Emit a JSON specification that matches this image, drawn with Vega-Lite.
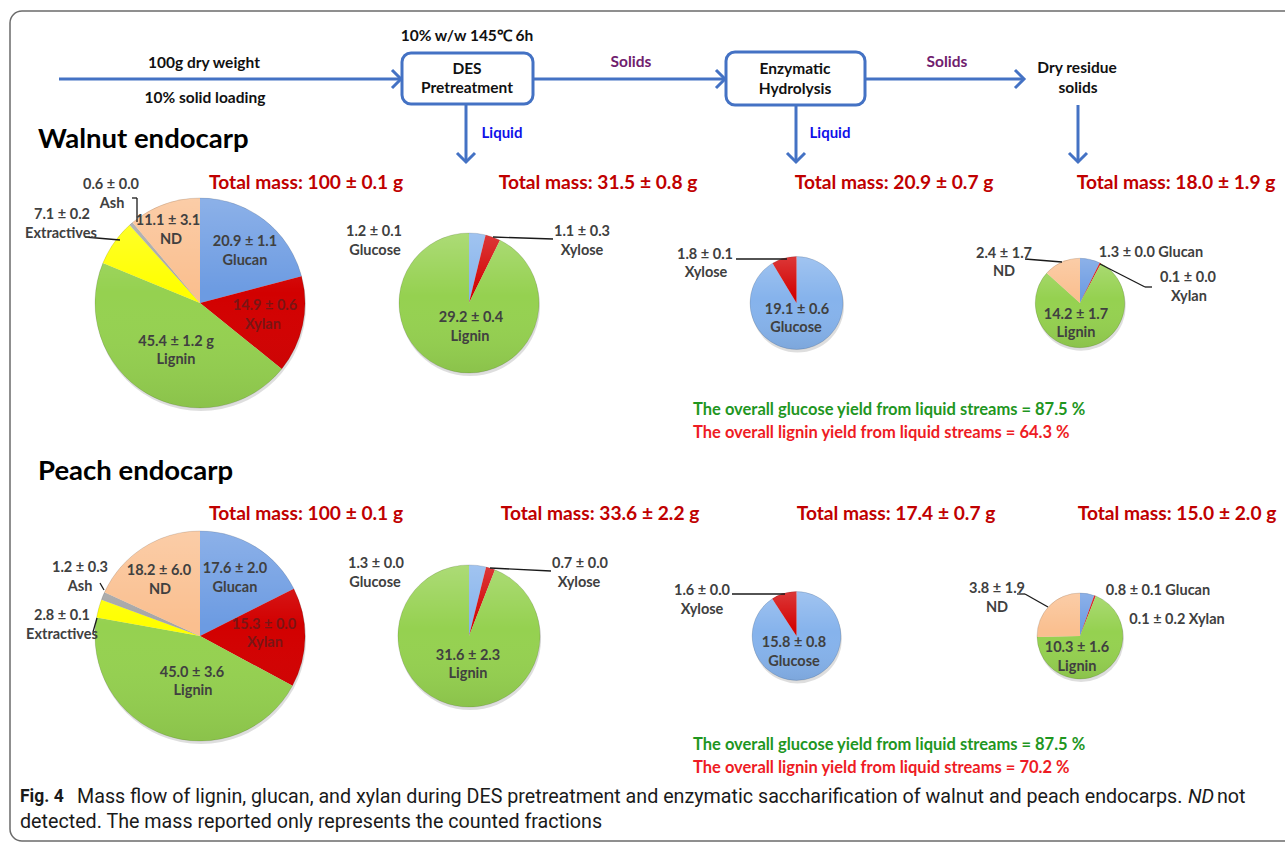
{
  "$schema": "https://vega.github.io/schema/vega-lite/v6.json",
  "width": 1285,
  "height": 843,
  "autosize": {"type": "none"},
  "padding": 0,
  "background": "white",
  "config": {"view": {"stroke": null}},
  "datasets": {
    "pies": [
      {"species": "Walnut endocarp", "step": 1, "component": "Glucan", "mass": 20.9, "order": 1},
      {"species": "Walnut endocarp", "step": 1, "component": "Xylan", "mass": 14.9, "order": 2},
      {"species": "Walnut endocarp", "step": 1, "component": "Lignin", "mass": 45.4, "order": 3},
      {"species": "Walnut endocarp", "step": 1, "component": "Extractives", "mass": 7.1, "order": 4},
      {"species": "Walnut endocarp", "step": 1, "component": "Ash", "mass": 0.6, "order": 5},
      {"species": "Walnut endocarp", "step": 1, "component": "ND", "mass": 11.1, "order": 6},
      {"species": "Walnut endocarp", "step": 2, "component": "Glucose", "mass": 1.2, "order": 1},
      {"species": "Walnut endocarp", "step": 2, "component": "Xylose", "mass": 1.1, "order": 2},
      {"species": "Walnut endocarp", "step": 2, "component": "Lignin", "mass": 29.2, "order": 3},
      {"species": "Walnut endocarp", "step": 3, "component": "Glucose", "mass": 19.1, "order": 1},
      {"species": "Walnut endocarp", "step": 3, "component": "Xylose", "mass": 1.8, "order": 2},
      {"species": "Walnut endocarp", "step": 4, "component": "Glucan", "mass": 1.3, "order": 1},
      {"species": "Walnut endocarp", "step": 4, "component": "Xylan", "mass": 0.1, "order": 2},
      {"species": "Walnut endocarp", "step": 4, "component": "Lignin", "mass": 14.2, "order": 3},
      {"species": "Walnut endocarp", "step": 4, "component": "ND", "mass": 2.4, "order": 6},
      {"species": "Peach endocarp", "step": 1, "component": "Glucan", "mass": 17.6, "order": 1},
      {"species": "Peach endocarp", "step": 1, "component": "Xylan", "mass": 15.3, "order": 2},
      {"species": "Peach endocarp", "step": 1, "component": "Lignin", "mass": 45.0, "order": 3},
      {"species": "Peach endocarp", "step": 1, "component": "Extractives", "mass": 2.8, "order": 4},
      {"species": "Peach endocarp", "step": 1, "component": "Ash", "mass": 1.2, "order": 5},
      {"species": "Peach endocarp", "step": 1, "component": "ND", "mass": 18.2, "order": 6},
      {"species": "Peach endocarp", "step": 2, "component": "Glucose", "mass": 1.3, "order": 1},
      {"species": "Peach endocarp", "step": 2, "component": "Xylose", "mass": 0.7, "order": 2},
      {"species": "Peach endocarp", "step": 2, "component": "Lignin", "mass": 31.6, "order": 3},
      {"species": "Peach endocarp", "step": 3, "component": "Glucose", "mass": 15.8, "order": 1},
      {"species": "Peach endocarp", "step": 3, "component": "Xylose", "mass": 1.6, "order": 2},
      {"species": "Peach endocarp", "step": 4, "component": "Glucan", "mass": 0.8, "order": 1},
      {"species": "Peach endocarp", "step": 4, "component": "Xylan", "mass": 0.1, "order": 2},
      {"species": "Peach endocarp", "step": 4, "component": "Lignin", "mass": 10.3, "order": 3},
      {"species": "Peach endocarp", "step": 4, "component": "ND", "mass": 3.8, "order": 6}
    ],
    "frame": [{"x": 10, "y": 11, "x2": 1300, "y2": 841}],
    "boxes": [
      {"x": 402, "y": 53, "x2": 533, "y2": 104},
      {"x": 726, "y": 52, "x2": 865, "y2": 105}
    ],
    "lines": [
      {"kind": "flow", "x": 59, "y": 79, "x2": 400, "y2": 79},
      {"kind": "flow", "x": 533, "y": 79, "x2": 724, "y2": 79},
      {"kind": "flow", "x": 865, "y": 79, "x2": 1023, "y2": 79},
      {"kind": "flow", "x": 466, "y": 104, "x2": 466, "y2": 161},
      {"kind": "flow", "x": 796, "y": 105, "x2": 796, "y2": 161},
      {"kind": "flow", "x": 1078, "y": 105, "x2": 1078, "y2": 161},
      {"kind": "leader", "x": 132, "y": 198, "x2": 137, "y2": 198},
      {"kind": "leader", "x": 137, "y": 198, "x2": 137, "y2": 222},
      {"kind": "leader", "x": 85, "y": 237, "x2": 120, "y2": 240},
      {"kind": "leader", "x": 493, "y": 237, "x2": 553, "y2": 239},
      {"kind": "leader", "x": 736, "y": 259, "x2": 787, "y2": 259},
      {"kind": "leader", "x": 1025, "y": 259, "x2": 1062, "y2": 262},
      {"kind": "leader", "x": 1100, "y": 264, "x2": 1145, "y2": 287},
      {"kind": "leader", "x": 1145, "y": 287, "x2": 1152, "y2": 287},
      {"kind": "leader", "x": 100, "y": 583, "x2": 104, "y2": 590},
      {"kind": "leader", "x": 97, "y": 618, "x2": 93, "y2": 632},
      {"kind": "leader", "x": 490, "y": 568, "x2": 551, "y2": 571},
      {"kind": "leader", "x": 732, "y": 594, "x2": 785, "y2": 594},
      {"kind": "leader", "x": 1017, "y": 594, "x2": 1025, "y2": 594},
      {"kind": "leader", "x": 1025, "y": 594, "x2": 1048, "y2": 607}
    ],
    "tips": [
      {"dir": "right", "x": 401, "y": 79},
      {"dir": "right", "x": 725, "y": 79},
      {"dir": "right", "x": 1024, "y": 79},
      {"dir": "down", "x": 466, "y": 162},
      {"dir": "down", "x": 796, "y": 162},
      {"dir": "down", "x": 1078, "y": 162}
    ],
    "texts": [
      {"kind": "flow", "x": 204, "y": 63, "text": "100g dry weight"},
      {"kind": "flow", "x": 205, "y": 98, "text": "10% solid loading"},
      {"kind": "flow", "x": 467, "y": 36, "text": "10% w/w 145℃ 6h"},
      {"kind": "flow", "x": 467, "y": 69, "text": "DES"},
      {"kind": "flow", "x": 467, "y": 88, "text": "Pretreatment"},
      {"kind": "flow", "x": 795, "y": 69, "text": "Enzymatic"},
      {"kind": "flow", "x": 795, "y": 89, "text": "Hydrolysis"},
      {"kind": "flow", "x": 1077, "y": 68, "text": "Dry residue"},
      {"kind": "flow", "x": 1078, "y": 88, "text": "solids"},
      {"kind": "solids", "x": 631, "y": 62, "text": "Solids"},
      {"kind": "solids", "x": 947, "y": 62, "text": "Solids"},
      {"kind": "liquid", "x": 502, "y": 133, "text": "Liquid"},
      {"kind": "liquid", "x": 830, "y": 133, "text": "Liquid"},
      {"kind": "title", "x": 38, "y": 140, "text": "Walnut endocarp"},
      {"kind": "title", "x": 38, "y": 472, "text": "Peach endocarp"},
      {"kind": "total", "x": 306, "y": 183, "text": "Total mass: 100 ± 0.1 g"},
      {"kind": "total", "x": 598, "y": 183, "text": "Total mass: 31.5 ± 0.8 g"},
      {"kind": "total", "x": 894, "y": 183, "text": "Total mass: 20.9 ± 0.7 g"},
      {"kind": "total", "x": 1176, "y": 183, "text": "Total mass: 18.0 ± 1.9 g"},
      {"kind": "total", "x": 306, "y": 514, "text": "Total mass: 100 ± 0.1 g"},
      {"kind": "total", "x": 600, "y": 514, "text": "Total mass: 33.6 ± 2.2 g"},
      {"kind": "total", "x": 896, "y": 514, "text": "Total mass: 17.4 ± 0.7 g"},
      {"kind": "total", "x": 1177, "y": 514, "text": "Total mass: 15.0 ± 2.0 g"},
      {"kind": "label", "x": 111, "y": 185, "text": "0.6 ± 0.0"},
      {"kind": "label", "x": 112, "y": 204, "text": "Ash"},
      {"kind": "label", "x": 62, "y": 215, "text": "7.1 ± 0.2"},
      {"kind": "label", "x": 61, "y": 234, "text": "Extractives"},
      {"kind": "label", "x": 168, "y": 221, "text": "11.1 ± 3.1"},
      {"kind": "label", "x": 171, "y": 240, "text": "ND"},
      {"kind": "label", "x": 245, "y": 242, "text": "20.9 ± 1.1"},
      {"kind": "label", "x": 245, "y": 261, "text": "Glucan"},
      {"kind": "xylan", "x": 265, "y": 306, "text": "14.9 ± 0.6"},
      {"kind": "xylan", "x": 263, "y": 325, "text": "Xylan"},
      {"kind": "label", "x": 176, "y": 342, "text": "45.4 ± 1.2 g"},
      {"kind": "label", "x": 176, "y": 360, "text": "Lignin"},
      {"kind": "label", "x": 374, "y": 232, "text": "1.2 ± 0.1"},
      {"kind": "label", "x": 375, "y": 251, "text": "Glucose"},
      {"kind": "label", "x": 582, "y": 232, "text": "1.1 ± 0.3"},
      {"kind": "label", "x": 582, "y": 251, "text": "Xylose"},
      {"kind": "label", "x": 471, "y": 318, "text": "29.2 ± 0.4"},
      {"kind": "label", "x": 470, "y": 337, "text": "Lignin"},
      {"kind": "label", "x": 705, "y": 255, "text": "1.8 ± 0.1"},
      {"kind": "label", "x": 706, "y": 273, "text": "Xylose"},
      {"kind": "label", "x": 797, "y": 310, "text": "19.1 ± 0.6"},
      {"kind": "label", "x": 796, "y": 328, "text": "Glucose"},
      {"kind": "label", "x": 1004, "y": 254, "text": "2.4 ± 1.7"},
      {"kind": "label", "x": 1004, "y": 272, "text": "ND"},
      {"kind": "label", "x": 1151, "y": 253, "text": "1.3 ± 0.0 Glucan"},
      {"kind": "label", "x": 1188, "y": 278, "text": "0.1 ± 0.0"},
      {"kind": "label", "x": 1189, "y": 297, "text": "Xylan"},
      {"kind": "label", "x": 1076, "y": 315, "text": "14.2 ± 1.7"},
      {"kind": "label", "x": 1076, "y": 333, "text": "Lignin"},
      {"kind": "label", "x": 80, "y": 568, "text": "1.2 ± 0.3"},
      {"kind": "label", "x": 80, "y": 587, "text": "Ash"},
      {"kind": "label", "x": 62, "y": 616, "text": "2.8 ± 0.1"},
      {"kind": "label", "x": 62, "y": 635, "text": "Extractives"},
      {"kind": "label", "x": 159, "y": 571, "text": "18.2 ± 6.0"},
      {"kind": "label", "x": 160, "y": 590, "text": "ND"},
      {"kind": "label", "x": 235, "y": 569, "text": "17.6 ± 2.0"},
      {"kind": "label", "x": 235, "y": 588, "text": "Glucan"},
      {"kind": "xylan", "x": 264, "y": 625, "text": "15.3 ± 0.0"},
      {"kind": "xylan", "x": 265, "y": 643, "text": "Xylan"},
      {"kind": "label", "x": 192, "y": 673, "text": "45.0 ± 3.6"},
      {"kind": "label", "x": 193, "y": 691, "text": "Lignin"},
      {"kind": "label", "x": 376, "y": 564, "text": "1.3 ± 0.0"},
      {"kind": "label", "x": 375, "y": 583, "text": "Glucose"},
      {"kind": "label", "x": 580, "y": 564, "text": "0.7 ± 0.0"},
      {"kind": "label", "x": 579, "y": 583, "text": "Xylose"},
      {"kind": "label", "x": 468, "y": 656, "text": "31.6 ± 2.3"},
      {"kind": "label", "x": 468, "y": 674, "text": "Lignin"},
      {"kind": "label", "x": 702, "y": 591, "text": "1.6 ± 0.0"},
      {"kind": "label", "x": 702, "y": 610, "text": "Xylose"},
      {"kind": "label", "x": 794, "y": 643, "text": "15.8 ± 0.8"},
      {"kind": "label", "x": 794, "y": 662, "text": "Glucose"},
      {"kind": "label", "x": 997, "y": 589, "text": "3.8 ± 1.9"},
      {"kind": "label", "x": 997, "y": 608, "text": "ND"},
      {"kind": "label", "x": 1158, "y": 591, "text": "0.8 ± 0.1 Glucan"},
      {"kind": "label", "x": 1177, "y": 620, "text": "0.1 ± 0.2 Xylan"},
      {"kind": "label", "x": 1077, "y": 648, "text": "10.3 ± 1.6"},
      {"kind": "label", "x": 1077, "y": 667, "text": "Lignin"},
      {"kind": "yieldG", "x": 693, "y": 410, "text": "The overall glucose yield from liquid streams = 87.5 %"},
      {"kind": "yieldR", "x": 693, "y": 433, "text": "The overall lignin yield from liquid streams = 64.3 %"},
      {"kind": "yieldG", "x": 693, "y": 745, "text": "The overall glucose yield from liquid streams = 87.5 %"},
      {"kind": "yieldR", "x": 693, "y": 768, "text": "The overall lignin yield from liquid streams = 70.2 %"},
      {"kind": "capBold", "x": 20, "y": 797, "text": "Fig. 4"},
      {"kind": "capReg", "x": 77, "y": 797, "text": "Mass flow of lignin, glucan, and xylan during DES pretreatment and enzymatic saccharification of walnut and peach endocarps."},
      {"kind": "capItal", "x": 1188, "y": 797, "text": "ND"},
      {"kind": "capReg", "x": 1217, "y": 797, "text": "not"},
      {"kind": "capReg", "x": 20, "y": 822, "text": "detected. The mass reported only represents the counted fractions"}
    ]
  },
  "encoding": {
    "x": {"field": "x", "type": "quantitative", "scale": {"domain": [0, 1285], "range": [0, 1285], "nice": false, "zero": false}, "axis": null},
    "y": {"field": "y", "type": "quantitative", "scale": {"domain": [0, 843], "range": [0, 843], "nice": false, "zero": false}, "axis": null}
  },
  "layer": [
    {
      "data": {"name": "frame"},
      "mark": {"type": "rect", "filled": false, "stroke": "#6b6b6b", "strokeWidth": 1.5, "cornerRadius": 12},
      "encoding": {"x2": {"field": "x2"}, "y2": {"field": "y2"}}
    },
    {
      "data": {"name": "pies"},
      "transform": [
        {"aggregate": [{"op": "sum", "field": "mass", "as": "total"}], "groupby": ["species", "step"]}
      ],
      "mark": {"type": "arc", "theta": 0, "theta2": 6.283185307179586, "fill": "rgba(0,0,0,0.13)", "yOffset": 3, "xOffset": 1},
      "encoding": {
        "x": {"field": "step", "type": "quantitative", "stack": null, "scale": {"domain": [1, 2, 3, 4], "range": [200, 469, 796.5, 1080], "nice": false, "zero": false}, "axis": null},
        "y": {"field": "species", "type": "nominal", "scale": {"type": "point", "domain": ["Walnut endocarp", "Peach endocarp"], "range": [303, 636], "padding": 0}, "axis": null},
        "radius": {"field": "total", "type": "quantitative", "stack": null, "scale": {"type": "linear", "domain": [15, 20.9, 31.5, 100], "range": [43, 46.5, 70, 105], "zero": false, "nice": false}},
        "radius2": {"value": 0}
      }
    },
    {
      "data": {"name": "pies"},
      "transform": [
        {"joinaggregate": [{"op": "sum", "field": "mass", "as": "total"}], "groupby": ["species", "step"]},
        {"stack": "mass", "groupby": ["species", "step"], "sort": [{"field": "order", "order": "ascending"}], "offset": "normalize", "as": ["t0", "t1"]}
      ],
      "mark": {"type": "arc"},
      "encoding": {
        "x": {"field": "step", "type": "quantitative", "stack": null, "scale": {"domain": [1, 2, 3, 4], "range": [200, 469, 796.5, 1080], "nice": false, "zero": false}, "axis": null},
        "y": {"field": "species", "type": "nominal", "scale": {"type": "point", "domain": ["Walnut endocarp", "Peach endocarp"], "range": [303, 636], "padding": 0}, "axis": null},
        "theta": {"field": "t0", "type": "quantitative", "stack": null, "scale": {"domain": [0, 1], "range": [0, 6.283185307179586]}},
        "theta2": {"field": "t1"},
        "radius": {"field": "total", "type": "quantitative", "stack": null, "scale": {"type": "linear", "domain": [15, 20.9, 31.5, 100], "range": [43, 46.5, 70, 105], "zero": false, "nice": false}},
        "radius2": {"value": 0},
        "color": {"field": "component", "type": "nominal", "legend": null, "scale": {"domain": ["Glucan", "Glucose", "Xylan", "Xylose", "Lignin", "Extractives", "Ash", "ND"], "range": ["#6c9be2", "#86b3ec", "#d20000", "#d20000", "#95d150", "#ffff00", "#a6a6a6", "#fabf8f"]}}
      }
    },
    {
      "data": {"name": "pies"},
      "transform": [
        {"aggregate": [{"op": "sum", "field": "mass", "as": "total"}], "groupby": ["species", "step"]}
      ],
      "mark": {"type": "arc", "theta": 0, "theta2": 6.283185307179586, "fill": {"gradient": "linear", "x1": 0, "y1": 0, "x2": 0, "y2": 1, "stops": [{"offset": 0, "color": "rgba(255,255,255,0.22)"}, {"offset": 0.45, "color": "rgba(255,255,255,0)"}, {"offset": 1, "color": "rgba(0,0,0,0.07)"}]}, "stroke": "rgba(0,0,0,0.12)", "strokeWidth": 1},
      "encoding": {
        "x": {"field": "step", "type": "quantitative", "stack": null, "scale": {"domain": [1, 2, 3, 4], "range": [200, 469, 796.5, 1080], "nice": false, "zero": false}, "axis": null},
        "y": {"field": "species", "type": "nominal", "scale": {"type": "point", "domain": ["Walnut endocarp", "Peach endocarp"], "range": [303, 636], "padding": 0}, "axis": null},
        "radius": {"field": "total", "type": "quantitative", "stack": null, "scale": {"type": "linear", "domain": [15, 20.9, 31.5, 100], "range": [43, 46.5, 70, 105], "zero": false, "nice": false}},
        "radius2": {"value": 0}
      }
    },
    {
      "data": {"name": "lines"},
      "transform": [{"filter": "datum.kind === 'flow'"}],
      "mark": {"type": "rule", "color": "#4472c4", "strokeWidth": 3},
      "encoding": {"x2": {"field": "x2"}, "y2": {"field": "y2"}}
    },
    {
      "data": {"name": "boxes"},
      "mark": {"type": "rect", "fill": "white", "stroke": "#4472c4", "strokeWidth": 3, "cornerRadius": 9},
      "encoding": {"x2": {"field": "x2"}, "y2": {"field": "y2"}}
    },
    {
      "data": {"name": "tips"},
      "transform": [{"filter": "datum.dir === 'right'"}],
      "mark": {"type": "point", "shape": "M-1,-1L0,0L-1,1", "size": 324, "filled": false, "stroke": "#4472c4", "strokeWidth": 3, "opacity": 1}
    },
    {
      "data": {"name": "tips"},
      "transform": [{"filter": "datum.dir === 'down'"}],
      "mark": {"type": "point", "shape": "M-1,-1L0,0L1,-1", "size": 324, "filled": false, "stroke": "#4472c4", "strokeWidth": 3, "opacity": 1}
    },
    {
      "data": {"name": "lines"},
      "transform": [{"filter": "datum.kind === 'leader'"}],
      "mark": {"type": "rule", "color": "#1a1a1a", "strokeWidth": 1.3},
      "encoding": {"x2": {"field": "x2"}, "y2": {"field": "y2"}}
    },
    {
      "data": {"name": "texts"},
      "transform": [{"filter": "datum.kind === 'flow'"}],
      "mark": {"type": "text", "font": "Lato", "fontWeight": "bold", "fontSize": 15.5, "color": "#111111", "align": "center", "baseline": "middle"},
      "encoding": {"text": {"field": "text"}}
    },
    {
      "data": {"name": "texts"},
      "transform": [{"filter": "datum.kind === 'solids'"}],
      "mark": {"type": "text", "font": "Lato", "fontWeight": "bold", "fontSize": 15.5, "color": "#70206e", "align": "center", "baseline": "middle"},
      "encoding": {"text": {"field": "text"}}
    },
    {
      "data": {"name": "texts"},
      "transform": [{"filter": "datum.kind === 'liquid'"}],
      "mark": {"type": "text", "font": "Lato", "fontWeight": "bold", "fontSize": 15, "color": "#1010e8", "align": "center", "baseline": "middle"},
      "encoding": {"text": {"field": "text"}}
    },
    {
      "data": {"name": "texts"},
      "transform": [{"filter": "datum.kind === 'title'"}],
      "mark": {"type": "text", "font": "Lato", "fontWeight": "bold", "fontSize": 27.5, "color": "#000000", "align": "left", "baseline": "middle"},
      "encoding": {"text": {"field": "text"}}
    },
    {
      "data": {"name": "texts"},
      "transform": [{"filter": "datum.kind === 'total'"}],
      "mark": {"type": "text", "font": "Lato", "fontWeight": "bold", "fontSize": 19.2, "color": "#c00000", "align": "center", "baseline": "middle"},
      "encoding": {"text": {"field": "text"}}
    },
    {
      "data": {"name": "texts"},
      "transform": [{"filter": "datum.kind === 'label'"}],
      "mark": {"type": "text", "font": "Lato", "fontWeight": "bold", "fontSize": 14.5, "color": "#404040", "align": "center", "baseline": "middle"},
      "encoding": {"text": {"field": "text"}}
    },
    {
      "data": {"name": "texts"},
      "transform": [{"filter": "datum.kind === 'xylan'"}],
      "mark": {"type": "text", "font": "Lato", "fontWeight": "bold", "fontSize": 14.5, "color": "#7a1515", "align": "center", "baseline": "middle"},
      "encoding": {"text": {"field": "text"}}
    },
    {
      "data": {"name": "texts"},
      "transform": [{"filter": "datum.kind === 'yieldG'"}],
      "mark": {"type": "text", "font": "Lato", "fontWeight": "bold", "fontSize": 16.5, "color": "#1f961f", "align": "left", "baseline": "middle"},
      "encoding": {"text": {"field": "text"}}
    },
    {
      "data": {"name": "texts"},
      "transform": [{"filter": "datum.kind === 'yieldR'"}],
      "mark": {"type": "text", "font": "Lato", "fontWeight": "bold", "fontSize": 16.5, "color": "#ee1c24", "align": "left", "baseline": "middle"},
      "encoding": {"text": {"field": "text"}}
    },
    {
      "data": {"name": "texts"},
      "transform": [{"filter": "datum.kind === 'capBold'"}],
      "mark": {"type": "text", "font": "Roboto", "fontWeight": "bold", "fontSize": 17.5, "color": "#1a1a1a", "align": "left", "baseline": "middle"},
      "encoding": {"text": {"field": "text"}}
    },
    {
      "data": {"name": "texts"},
      "transform": [{"filter": "datum.kind === 'capReg'"}],
      "mark": {"type": "text", "font": "Roboto", "fontSize": 19.7, "color": "#1a1a1a", "align": "left", "baseline": "middle"},
      "encoding": {"text": {"field": "text"}}
    },
    {
      "data": {"name": "texts"},
      "transform": [{"filter": "datum.kind === 'capItal'"}],
      "mark": {"type": "text", "font": "Roboto", "fontStyle": "italic", "fontSize": 19.7, "color": "#1a1a1a", "align": "left", "baseline": "middle"},
      "encoding": {"text": {"field": "text"}}
    }
  ],
  "resolve": {"scale": {"x": "independent", "y": "independent", "theta": "independent", "radius": "independent"}}
}
